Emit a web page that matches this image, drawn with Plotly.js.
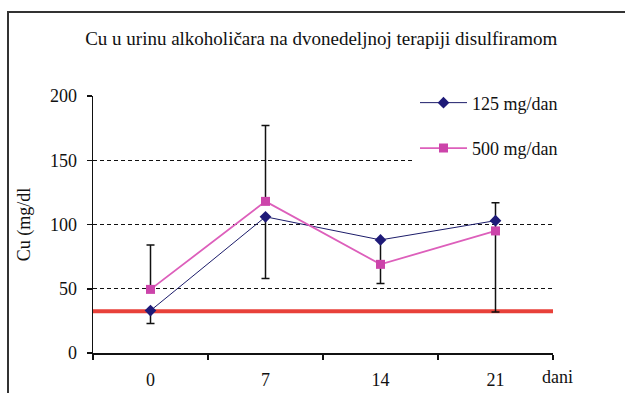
<!DOCTYPE html>
<html>
<head>
<meta charset="utf-8">
<script src="https://cdn.plot.ly/plotly-3.0.1.min.js"></script>
<style>
  html, body { margin: 0; padding: 0; background: #fff; overflow: hidden; }
  #wrap { position: relative; width: 625px; height: 393px; }
  #chart { position: absolute; left: 0; top: 0; width: 625px; height: 393px; }
  #frame { position: absolute; left: 7px; top: 11px; width: 700px; height: 500px;
           border-left: 2px solid #333; border-top: 2px solid #333; pointer-events: none; }
</style>
</head>
<body>
<div id="wrap">
  <div id="chart"></div>
  <div id="frame"></div>
</div>
<script>
// ---- data ----
const days = ['0', '7', '14', '21'];
const seriesNames = ['125 mg/dan', '500 mg/dan'];
const dose125 = [33, 106, 88, 103];
const dose500 = [49.5, 118, 69, 95];
const err125Minus = [10, 48, 34, 71];
const err125Plus = [0, 0, 0, 14];
const err500Plus = [34.5, 59, 0, 0];
const err500Minus = [0, 0, 0, 0];
const referenceLevel = 32.5;
const yTicks = [0, 50, 100, 150, 200];
const titleText = 'Cu u urinu alkoholičara na dvonedeljnoj terapiji disulfiramom';
const yTitleText = 'Cu (mg/dl';
const xUnitText = 'dani';

const FONT = '"Liberation Serif", "DejaVu Serif", serif';

const traces = [
  {
    x: days, y: dose125, name: seriesNames[0], type: 'scatter', mode: 'lines+markers',
    legendgroup: 'a',
    line: { color: '#1c1c6a', width: 1 },
    marker: { symbol: 'diamond', size: 9, color: '#1e1a78' },
    error_y: { type: 'data', symmetric: false, array: err125Plus, arrayminus: err125Minus,
               color: '#111', thickness: 1.5, width: 4 }
  },
  {
    x: days, y: dose500, name: seriesNames[1], type: 'scatter', mode: 'lines+markers',
    legendgroup: 'b',
    line: { color: '#dd5fbb', width: 1.8 },
    marker: { symbol: 'square', size: 9, color: '#cc44aa' },
    error_y: { type: 'data', symmetric: false, array: err500Plus, arrayminus: err500Minus,
               color: '#111', thickness: 1.5, width: 4 }
  }
];

const layout = {
  width: 625, height: 393,
  margin: { l: 93, r: 72, t: 96, b: 40 },
  paper_bgcolor: 'rgba(0,0,0,0)',
  plot_bgcolor: 'rgba(0,0,0,0)',
  font: { family: FONT, size: 18, color: '#111' },
  title: {
    text: titleText,
    font: { family: FONT, size: 19, color: '#111' },
    xref: 'container', x: 0.514, xanchor: 'center',
    yref: 'container', y: 0.903, yanchor: 'middle'
  },
  showlegend: true,
  legend: {
    x: 0.70, xanchor: 'left', y: 1.045, yanchor: 'top',
    bgcolor: '#fff', borderwidth: 0,
    font: { family: FONT, size: 18, color: '#111' },
    traceorder: 'grouped', tracegroupgap: 19,
    itemwidth: 47
  },
  xaxis: {
    type: 'category', range: [-0.5, 3.5],
    tickson: 'boundaries', ticks: 'outside', ticklen: 5, tickwidth: 1.5, tickcolor: '#111',
    showline: true, linecolor: '#111', linewidth: 1.5,
    showgrid: false, zeroline: false,
    tickfont: { family: FONT, size: 18, color: '#111' },
    ticklabelstandoff: 10,
    fixedrange: true
  },
  yaxis: {
    range: [0, 200], tickvals: yTicks,
    ticks: 'outside', ticklen: 5, tickwidth: 1.5, tickcolor: '#111',
    showline: true, linecolor: '#111', linewidth: 1.5,
    showgrid: true, gridcolor: '#111', gridwidth: 1, griddash: '4px,3px',
    zeroline: false,
    tickfont: { family: FONT, size: 18, color: '#111' },
    ticklabelstandoff: 6,
    title: { text: yTitleText, font: { family: FONT, size: 18, color: '#111' }, standoff: 14 },
    fixedrange: true
  },
  shapes: [
    { type: 'line', xref: 'paper', x0: 0, x1: 1, yref: 'y', y0: referenceLevel, y1: referenceLevel,
      line: { color: '#e8413a', width: 4 }, layer: 'below' }
  ],
  annotations: [
    { text: xUnitText, xref: 'paper', x: 1.009, xanchor: 'center', yref: 'paper', y: -0.093, yanchor: 'middle',
      showarrow: false, font: { family: FONT, size: 18, color: '#111' } }
  ]
};

Plotly.newPlot('chart', traces, layout, { staticPlot: true, displayModeBar: false });
</script>
</body>
</html>
